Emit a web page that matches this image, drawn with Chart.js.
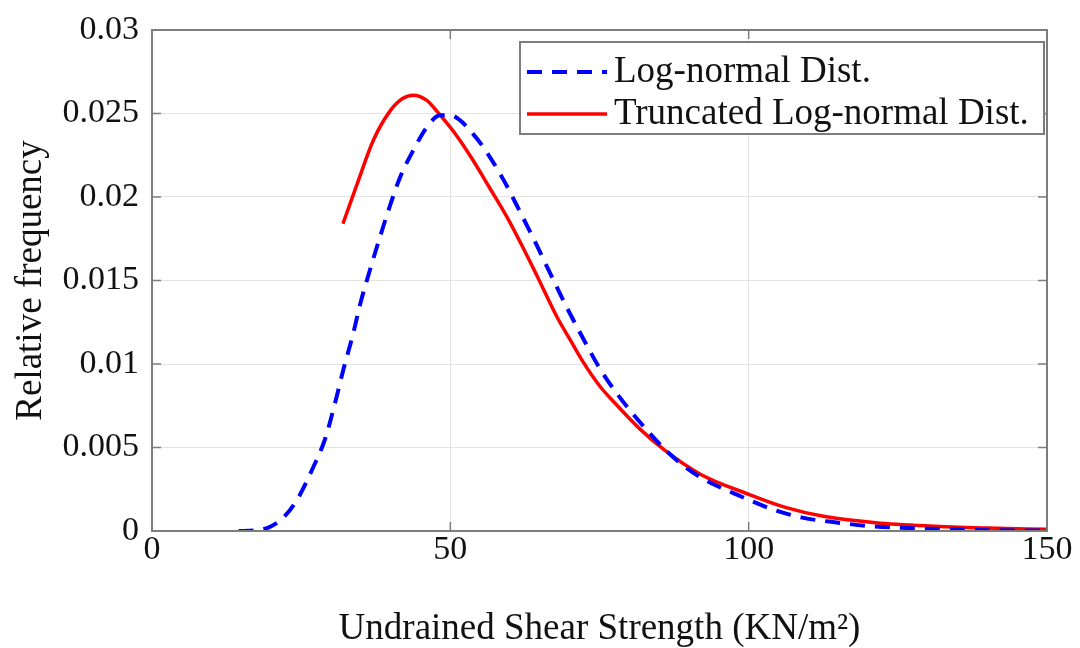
<!DOCTYPE html>
<html>
<head>
<meta charset="utf-8">
<script src="https://cdn.jsdelivr.net/npm/chart.js@4.4.0/dist/chart.umd.min.js"></script>
<style>
  html, body { margin: 0; padding: 0; background: #fff; }
</style>
</head>
<body>
<canvas id="shear-chart" width="1080" height="648"></canvas>
<script>
// values
var logX = [14.5, 17, 19.5, 22, 24.2, 27, 29, 30.7, 32.1, 33.7, 34.9, 36.5, 38.2, 40, 41.6, 43.8, 46.1, 48.3, 50, 51.6, 53.5, 55.5, 58.8, 61.7, 64.5, 66.5, 69.5, 72.3, 75.1, 78.4, 82.3, 86.5, 89.5, 92.5, 98.5, 104, 109, 115, 120, 130, 140, 150];
var logY = [0, 0.00003, 0.0002, 0.0008, 0.0018, 0.0038, 0.0055, 0.0077, 0.0097, 0.0118, 0.0136, 0.0156, 0.0176, 0.0196, 0.0212, 0.0228, 0.0242, 0.0249, 0.0249, 0.0246, 0.0239, 0.023, 0.0211, 0.0191, 0.0171, 0.0156, 0.0134, 0.0115, 0.0097, 0.0080, 0.0063, 0.0047, 0.0038, 0.0031, 0.0021, 0.0013, 0.0008, 0.0005, 0.0003, 0.00014, 0.00005, 0.00002];

var truncX = [32, 34.4, 37.1, 40, 42, 43.8, 46, 48.3, 51, 53.8, 56.5, 59.5, 62, 64.5, 67.9, 70, 72.3, 75, 78, 81.8, 85.7, 91.9, 100, 106.3, 112.3, 121.3, 130.3, 140, 150];
var truncY = [0.0184, 0.0208, 0.0234, 0.0252, 0.0259, 0.0261, 0.0258, 0.0249, 0.0237, 0.0222, 0.0206, 0.0188, 0.0171, 0.0153, 0.0128, 0.0115, 0.0101, 0.0087, 0.0075, 0.0061, 0.0049, 0.0034, 0.0022, 0.0014, 0.0009, 0.0005, 0.0003, 0.00018, 0.0001];

var xTicks = [0, 50, 100, 150];
var yTicks = [0, 0.005, 0.01, 0.015, 0.02, 0.025, 0.03];
var seriesNames = ["Log-normal Dist.", "Truncated Log-normal Dist."];

function toPoints(xs, ys) {
  return xs.map(function (x, i) { return { x: x, y: ys[i] }; });
}

var serif = "'Liberation Serif', 'Times New Roman', serif";
var axisGray = '#7d7d7d';

// matlab-like box with inward ticks, plus the legend inside the plot
var boxPlugin = {
  id: 'box',
  afterDraw: function (chart) {
    var ctx = chart.ctx;
    var a = chart.chartArea;
    var xs = chart.scales.x, ys = chart.scales.y;
    ctx.save();
    ctx.strokeStyle = axisGray;
    ctx.lineWidth = 2;
    ctx.strokeRect(a.left, a.top, a.right - a.left, a.bottom - a.top);
    ctx.lineWidth = 1.5;
    ctx.beginPath();
    xTicks.forEach(function (v) {
      var p = xs.getPixelForValue(v);
      ctx.moveTo(p, a.bottom); ctx.lineTo(p, a.bottom - 9);
      ctx.moveTo(p, a.top); ctx.lineTo(p, a.top + 9);
    });
    yTicks.forEach(function (v) {
      var p = ys.getPixelForValue(v);
      ctx.moveTo(a.left, p); ctx.lineTo(a.left + 9, p);
      ctx.moveTo(a.right, p); ctx.lineTo(a.right - 9, p);
    });
    ctx.stroke();

    // legend
    var lx = a.right - 527, ly = a.top + 12, lw = 524, lh = 92;
    ctx.fillStyle = '#fff';
    ctx.fillRect(lx, ly, lw, lh);
    ctx.lineWidth = 2;
    ctx.strokeRect(lx, ly, lw, lh);
    var ds = chart.data.datasets;
    ds.forEach(function (d, i) {
      var yy = ly + 30 + i * 42;
      ctx.strokeStyle = d.borderColor;
      ctx.lineWidth = d.borderWidth;
      ctx.setLineDash(d.borderDash || []);
      ctx.beginPath();
      ctx.moveTo(lx + 7, yy);
      ctx.lineTo(lx + 87, yy);
      ctx.stroke();
      ctx.setLineDash([]);
      ctx.fillStyle = '#111';
      ctx.font = '37px ' + serif;
      ctx.textBaseline = 'middle';
      ctx.fillText(d.label, lx + 94, yy);
    });
    ctx.restore();
  }
};

var ctx = document.getElementById('shear-chart').getContext('2d');
var shearChart = new Chart(ctx, {
  type: 'line',
  data: {
    datasets: [{
      label: seriesNames[0],
      data: toPoints(logX, logY),
      borderColor: '#0000ff',
      borderWidth: 4,
      borderDash: [15, 10],
      pointRadius: 0,
      cubicInterpolationMode: 'monotone',
      fill: false
    }, {
      label: seriesNames[1],
      data: toPoints(truncX, truncY),
      borderColor: '#ff0000',
      borderWidth: 3.5,
      pointRadius: 0,
      cubicInterpolationMode: 'monotone',
      fill: false
    }]
  },
  options: {
    responsive: false,
    animation: false,
    devicePixelRatio: 1,
    layout: { padding: { top: 21, right: 33, left: 0, bottom: 0 } },
    plugins: {
      legend: { display: false },
      tooltip: { enabled: false }
    },
    scales: {
      x: {
        type: 'linear',
        min: 0,
        max: 150,
        afterBuildTicks: function (s) { s.ticks = xTicks.map(function (v) { return { value: v }; }); },
        afterFit: function (s) { s.height = 117; },
        grid: { color: '#e3e3e3', lineWidth: 1, drawTicks: false },
        border: { display: false },
        ticks: {
          color: '#111',
          font: { family: serif, size: 34, lineHeight: 1 },
          padding: 2,
          maxRotation: 0
        },
        title: {
          display: true,
          text: 'Undrained Shear Strength (KN/m\u00b2)',
          color: '#111',
          font: { family: serif, size: 37, lineHeight: 1 },
          padding: { top: 0, bottom: 0 }
        }
      },
      y: {
        min: 0,
        max: 0.03,
        afterBuildTicks: function (s) { s.ticks = yTicks.map(function (v) { return { value: v }; }); },
        afterFit: function (s) { s.width = 152; },
        grid: { color: '#e3e3e3', lineWidth: 1, drawTicks: false },
        border: { display: false },
        ticks: {
          color: '#111',
          font: { family: serif, size: 34, lineHeight: 1 },
          padding: 13,
          callback: function (v) { return String(Number(v.toFixed(3))); }
        },
        title: {
          display: true,
          text: 'Relative frequency',
          color: '#111',
          font: { family: serif, size: 37, lineHeight: 1 },
          padding: { top: 13, bottom: 0 }
        }
      }
    }
  },
  plugins: [boxPlugin]
});
</script>
</body>
</html>
